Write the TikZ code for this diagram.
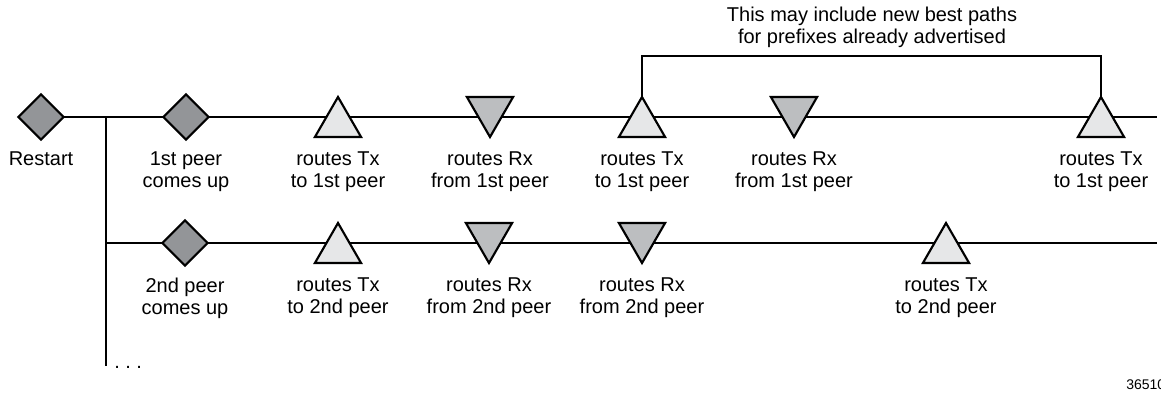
\documentclass[tikz,border=0pt]{standalone}
\usepackage{fontspec}
\setmainfont{Liberation Sans}
\usepackage{xcolor}
\usetikzlibrary{positioning,shapes.geometric,backgrounds}
\definecolor{peergray}{HTML}{939598}
\definecolor{txgray}{HTML}{E6E7E8}
\definecolor{rxgray}{HTML}{BCBEC0}

\begin{document}
\begin{tikzpicture}[x=0.75pt, y=-0.75pt, node distance=11pt,
    event/.style={draw, diamond, fill=peergray, line width=1.6pt, minimum size=34pt, inner sep=0pt, outer sep=0pt},
    tri/.style={draw, regular polygon, regular polygon sides=3, line width=1.6pt, minimum size=40pt, inner sep=0pt, outer sep=0pt},
    txmark/.style={tri, fill=txgray, yshift=-5pt},
    rxmark/.style={tri, fill=rxgray, shape border rotate=180, yshift=5pt},
    lbl/.style={align=center, inner sep=0pt, font=\fontsize{15pt}{16.5pt}\selectfont},
    timeline/.style={line width=1.1pt}]
    \clip (0,0) rectangle (1161,394);

    \node[event] (restart) at (41,117) {};
    \node[event] (peer1) at (186,117) {};
    \node[txmark] (tx1a) at (338,117) {};
    \node[rxmark] (rx1a) at (490,117) {};
    \node[txmark] (tx1b) at (642,117) {};
    \node[rxmark] (rx1b) at (794,117) {};
    \node[txmark] (tx1c) at (1101,117) {};

    \node[event] (peer2) at (185,243) {};
    \node[txmark] (tx2a) at (338,243) {};
    \node[rxmark] (rx2a) at (489,243) {};
    \node[rxmark] (rx2b) at (642,243) {};
    \node[txmark] (tx2b) at (946,243) {};

    \node[lbl, below=9pt of restart] {Restart};
    \node[lbl, below=9pt of peer1] {1st peer\\comes up};
    \node[lbl, below=of tx1a] {routes Tx\\to 1st peer};
    \node[lbl, below=of rx1a] {routes Rx\\from 1st peer};
    \node[lbl, below=of tx1b] {routes Tx\\to 1st peer};
    \node[lbl, below=of rx1b] {routes Rx\\from 1st peer};
    \node[lbl, below=of tx1c] {routes Tx\\to 1st peer};

    \node[lbl, below=9pt of peer2] {2nd peer\\comes up};
    \node[lbl, below=of tx2a] {routes Tx\\to 2nd peer};
    \node[lbl, below=of rx2a] {routes Rx\\from 2nd peer};
    \node[lbl, below=of rx2b] {routes Rx\\from 2nd peer};
    \node[lbl, below=of tx2b] {routes Tx\\to 2nd peer};

    \coordinate (split) at (106,117);
    \coordinate (fork) at (106,243);
    \coordinate (stem) at (106,366);
    \coordinate (end1) at (1157,117);
    \coordinate (end2) at (1157,243);
    \coordinate (brk) at (872,56);

    \node[lbl, above=6pt of brk] (note) {This may include new best paths\\for prefixes already advertised};
    \node[lbl, anchor=base west] (more) at (114,368) {.\ .\ .};
    \node[anchor=west, inner sep=0pt, font=\fontsize{10.5pt}{12pt}\selectfont] (fig) at (1126,385) {36510};

    \begin{scope}[on background layer]
        \draw[timeline] (restart.east) -- (end1);
        \draw[timeline] (split) -- (stem);
        \draw[timeline] (fork) -- (end2);
    \end{scope}
    \draw[timeline] (tx1b.north) -- (tx1b.north |- brk) -- (tx1c.north |- brk) -- (tx1c.north);
\end{tikzpicture}
\end{document}
